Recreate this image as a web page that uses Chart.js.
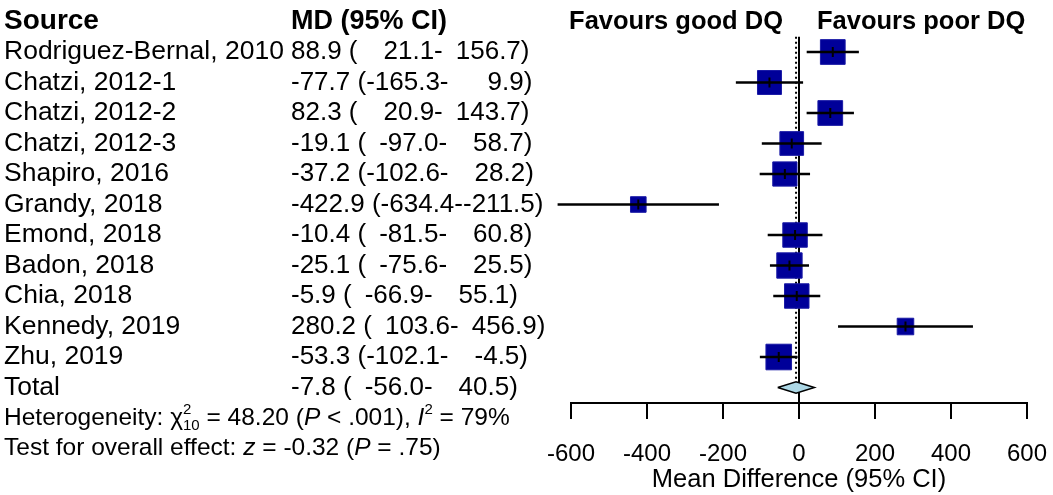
<!DOCTYPE html>
<html lang="en">
<head>
<meta charset="UTF-8">
<title>Forest plot - Mean Difference (95% CI)</title>
<script src="https://cdn.jsdelivr.net/npm/chart.js"></script>
<style>
  body { margin: 0; background: #fff; }
  canvas { display: block; }
</style>
</head>
<body>
<canvas id="forest" width="1053" height="495"></canvas>
<script>
const studies = ["Rodriguez-Bernal, 2010", "Chatzi, 2012-1", "Chatzi, 2012-2", "Chatzi, 2012-3",
  "Shapiro, 2016", "Grandy, 2018", "Emond, 2018", "Badon, 2018", "Chia, 2018", "Kennedy, 2019", "Zhu, 2019"];
const md     = [88.9, -77.7, 82.3, -19.1, -37.2, -422.9, -10.4, -25.1, -5.9, 280.2, -53.3];
const ciLow  = [21.1, -165.3, 20.9, -97.0, -102.6, -634.4, -81.5, -75.6, -66.9, 103.6, -102.1];
const ciHigh = [156.7, 9.9, 143.7, 58.7, 28.2, -211.5, 60.8, 25.5, 55.1, 456.9, -4.5];
const weights = [9.8, 9.2, 9.8, 9.0, 9.4, 3.9, 9.6, 10.3, 9.6, 4.4, 10.5];
const totalMd = -7.8, totalLow = -56.0, totalHigh = 40.5;
const xTicks = [-600, -400, -200, 0, 200, 400, 600];

const FONT = "'Liberation Sans', Arial, sans-serif";
const NAME_X = 4, MD_X = 291;
const totalRow = studies.length + 1;
const Y_MIN = -0.705, Y_MAX = 12.508;

// square side grows with sqrt(weight); 'rect' point radius -> side = 2*r*sqrt(1/2)
const sideFor = w => 7.9 * Math.sqrt(w);

// numbers padded with en spaces so the columns line up like the original
function fmt(v) { return v.toFixed(1).padStart(6, '\u2002'); }
function mdText(m, lo, hi) { return m.toFixed(1) + ' (' + fmt(lo) + '-' + fmt(hi) + ')'; }

function drawRuns(ctx, x, y, runs, size) {
  for (const r of runs) {
    if (r.sup !== undefined) {
      const s = Math.round(size * 0.62);
      ctx.font = s + 'px ' + FONT;
      ctx.fillText(r.sup, x, y - 8);
      ctx.fillText(r.sub, x, y + 8);
      x += Math.max(ctx.measureText(r.sup).width, ctx.measureText(r.sub).width);
      continue;
    }
    const s = r.small ? Math.round(size * 0.62) : size;
    ctx.font = (r.italic ? 'italic ' : '') + s + 'px ' + FONT;
    ctx.fillText(r.t, x, y + (r.dy || 0));
    x += ctx.measureText(r.t).width;
  }
}

const textPlugin = {
  id: 'forestText',
  afterDraw(chart) {
    const ctx = chart.ctx, ys = chart.scales.y, xs = chart.scales.x;
    ctx.save();
    ctx.fillStyle = '#000';
    ctx.textBaseline = 'middle';
    ctx.textAlign = 'left';

    const y0 = ys.getPixelForValue(0);
    ctx.font = 'bold 28px ' + FONT;
    ctx.fillText('Source', NAME_X, y0);
    ctx.font = 'bold 27px ' + FONT;
    ctx.fillText('MD (95% CI)', MD_X, y0);
    const zx = xs.getPixelForValue(0);
    ctx.font = 'bold 25.5px ' + FONT;
    ctx.textAlign = 'right';
    ctx.fillText('Favours good DQ', zx - 16, y0);
    ctx.textAlign = 'left';
    ctx.fillText('Favours poor DQ', zx + 18, y0);

    studies.forEach((s, i) => {
      const yy = ys.getPixelForValue(i + 1);
      ctx.font = '26.5px ' + FONT;
      ctx.fillText(s, NAME_X, yy);
      ctx.font = '26px ' + FONT;
      ctx.fillText(mdText(md[i], ciLow[i], ciHigh[i]), MD_X, yy);
    });
    const yt = ys.getPixelForValue(totalRow);
    ctx.font = '26.5px ' + FONT;
    ctx.fillText('Total', NAME_X, yt);
    ctx.font = '26px ' + FONT;
    ctx.fillText(mdText(totalMd, totalLow, totalHigh), MD_X, yt);

    drawRuns(ctx, NAME_X, ys.getPixelForValue(totalRow + 1), [
      { t: 'Heterogeneity: \u03c7' }, { sup: '2', sub: '10' },
      { t: ' = 48.20 (' }, { t: 'P', italic: true }, { t: ' < .001), ' },
      { t: 'I', italic: true }, { t: '2', small: true, dy: -8 }, { t: ' = 79%' }
    ], 24.5);
    drawRuns(ctx, NAME_X, ys.getPixelForValue(totalRow + 2), [
      { t: 'Test for overall effect: ' }, { t: 'z', italic: true },
      { t: ' = -0.32 (' }, { t: 'P', italic: true }, { t: ' = .75)' }
    ], 24.5);
    ctx.restore();
  }
};

const rows = studies.map((s, i) => i + 1);

new Chart(document.getElementById('forest'), {
  type: 'scatter',
  data: {
    datasets: [
      {
        label: 'estimate',
        data: md.map((v, i) => ({ x: v, y: rows[i] })),
        pointStyle: 'line', rotation: 90, pointRadius: 5,
        borderColor: '#000', borderWidth: 2, clip: false
      },
      {
        type: 'bar', label: 'ci', indexAxis: 'y',
        data: ciLow.map((lo, i) => ({ x: [lo, ciHigh[i]], y: rows[i] })),
        backgroundColor: '#000', barThickness: 2, grouped: false, clip: false
      },
      {
        label: 'weight',
        data: md.map((v, i) => ({ x: v, y: rows[i] })),
        pointStyle: 'rect',
        pointRadius: weights.map(w => sideFor(w) / (2 * Math.SQRT1_2)),
        backgroundColor: '#000099', borderColor: '#1a1aa6', borderWidth: 1
      },
      {
        type: 'line', label: 'pooled',
        data: [
          { x: totalLow, y: totalRow }, { x: totalMd, y: totalRow - 0.19 },
          { x: totalHigh, y: totalRow }, { x: totalMd, y: totalRow + 0.19 },
          { x: totalLow, y: totalRow }
        ],
        borderColor: '#000', borderWidth: 1.5, backgroundColor: '#add8e6',
        fill: 'shape', pointRadius: 0, tension: 0
      },
      {
        type: 'line', label: 'pooled line',
        data: [{ x: totalMd, y: 0.5 }, { x: totalMd, y: totalRow - 0.19 }],
        borderColor: '#000', borderWidth: 2, borderDash: [2, 3], pointRadius: 0
      },
      {
        type: 'line', label: 'zero',
        data: [{ x: 0, y: 0.5 }, { x: 0, y: Y_MAX }],
        borderColor: '#000', borderWidth: 2, pointRadius: 0
      }
    ]
  },
  options: {
    responsive: false,
    animation: false,
    layout: { autoPadding: false, padding: { left: 571, right: 26, top: 0, bottom: 0 } },
    plugins: { legend: { display: false }, tooltip: { enabled: false } },
    scales: {
      x: {
        type: 'linear', position: 'bottom', min: -600, max: 600, offset: false,
        afterBuildTicks: s => { s.ticks = xTicks.map(v => ({ value: v })); },
        afterFit: s => { s.height = 92; s.paddingLeft = 0; s.paddingRight = 0; },
        grid: { drawOnChartArea: false, drawTicks: true, tickLength: 16, color: '#000', lineWidth: 2 },
        border: { display: true, color: '#000', width: 2 },
        ticks: { color: '#000', font: { family: FONT, size: 24 }, padding: 21, maxRotation: 0 },
        title: { display: true, text: 'Mean Difference (95% CI)', color: '#000',
                 font: { family: FONT, size: 25.5 }, padding: { top: 0, bottom: 0 } }
      },
      y: {
        type: 'linear', reverse: true, min: Y_MIN, max: Y_MAX, display: false, offset: false
      }
    }
  },
  plugins: [textPlugin]
});
</script>
</body>
</html>
